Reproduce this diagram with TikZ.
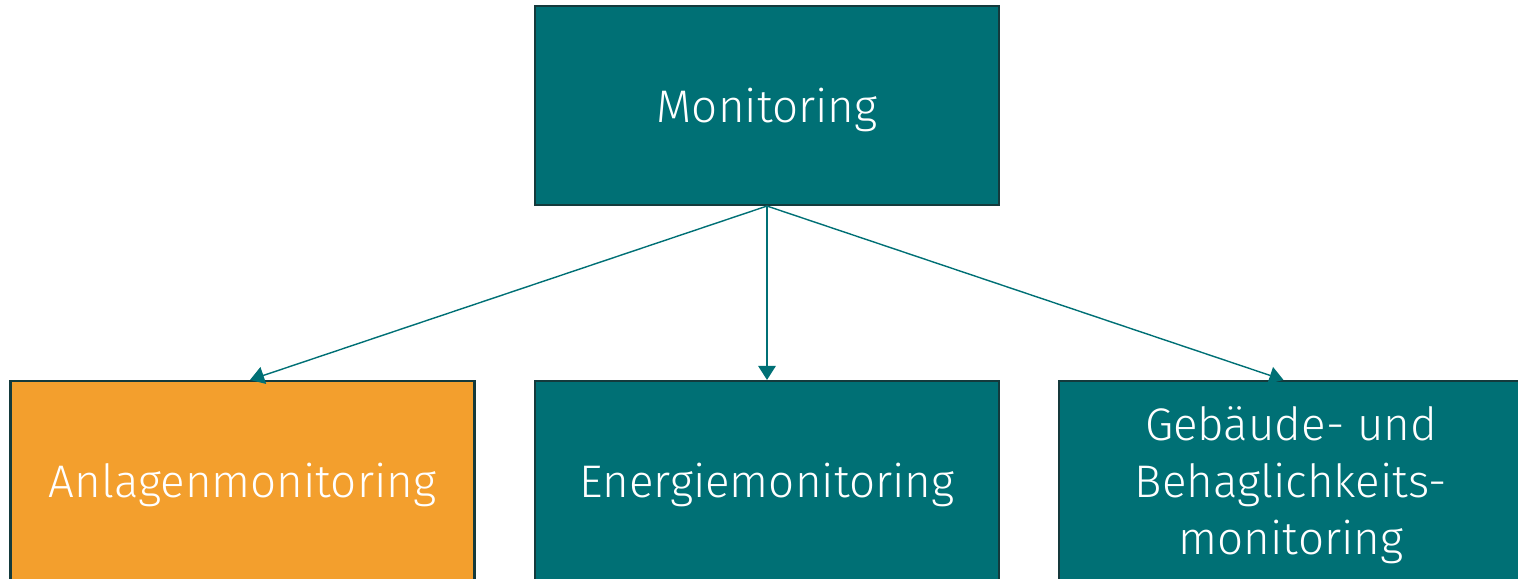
\documentclass[tikz,border=0pt]{standalone}
\usepackage{fontspec}
\setmainfont{Fira Sans Light}
\usetikzlibrary{arrows.meta}
\definecolor{teal}{HTML}{007075}
\definecolor{orange}{HTML}{F39F2D}
\definecolor{frame}{HTML}{143A3C}
% text sits slightly low in the boxes
\newcommand{\lowered}[1]{\raisebox{-3pt}[\height][\depth]{%
  \begin{tabular}{@{}c@{}}#1\end{tabular}}}
\begin{document}
\begin{tikzpicture}[
    box/.style={draw=frame, line width=1.2pt, fill=teal, text=white,
      minimum width=9.28cm, minimum height=3.98cm, align=center,
      font=\fontsize{26}{32.5}\selectfont},
    link/.style={draw=teal, line width=0.8pt,
      -{Triangle[width=10pt, length=8pt]}}
  ]

    \useasboundingbox (0, 0) rectangle (30.36, 11.58);

    \node[box] (mon) at (15.34, 9.47) {\lowered{Monitoring}};

    \node[box, fill=orange] (anl) at (4.85, 1.97) {\lowered{Anlagenmonitoring}};
    \node[box] (ene) at (15.34, 1.97) {\lowered{Energiemonitoring}};
    \node[box] (geb) at (25.82, 1.97)
      {\lowered{Gebäude- und\\Behaglichkeits-\\monitoring}};

    \path[link] (mon.south) to ([xshift=0.15cm]anl.north);
    \path[link] (mon.south) to (ene.north);
    \path[link] (mon.south) to ([xshift=-0.15cm]geb.north);

  \end{tikzpicture}
\end{document}
